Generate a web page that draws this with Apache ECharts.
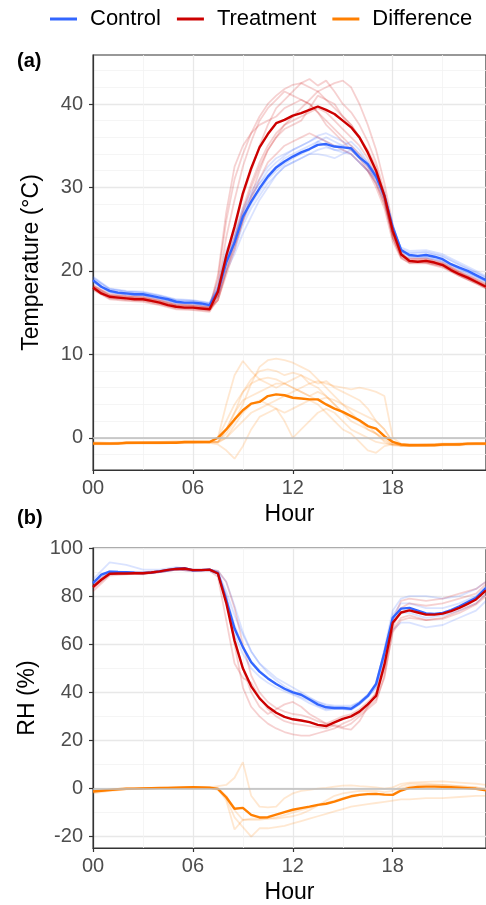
<!DOCTYPE html>
<html>
<head>
<meta charset="utf-8">
<script src="https://cdn.jsdelivr.net/npm/echarts@6/dist/echarts.min.js"></script>
<style>
  html, body { margin: 0; padding: 0; background: #fff; }
  #chart { width: 486px; height: 905px; }
</style>
</head>
<body>
<div id="chart"></div>
<script>
    // mean curves, half-hour steps
    var hours = [0, 0.5, 1, 1.5, 2, 2.5, 3, 3.5, 4, 4.5, 5, 5.5, 6, 6.5, 7, 7.5, 8, 8.5, 9, 9.5,
        10, 10.5, 11, 11.5, 12, 12.5, 13, 13.5, 14, 14.5, 15, 15.5, 16, 16.5, 17, 17.5, 18, 18.5, 19, 19.5,
        20, 20.5, 21, 21.5, 22, 22.5, 23, 23.6];
    var tempControl = [18.9, 18.1, 17.6, 17.4, 17.3, 17.2, 17.2, 17.0, 16.8, 16.6, 16.3, 16.2, 16.2, 16.1, 15.9, 17.6, 21.0, 23.4, 26.5, 28.3,
        29.9, 31.3, 32.4, 33.1, 33.7, 34.2, 34.6, 35.1, 35.2, 34.9, 34.8, 34.7, 33.6, 32.8, 31.3, 29.0, 25.2, 22.5, 21.9, 21.8,
        21.9, 21.7, 21.4, 20.8, 20.4, 20.0, 19.5, 18.9];
    var tempTreatment = [18.0, 17.3, 16.9, 16.8, 16.7, 16.6, 16.6, 16.4, 16.2, 15.9, 15.7, 15.6, 15.6, 15.5, 15.4, 17.5, 21.8, 25.3, 29.3, 32.3,
        34.8, 36.4, 37.7, 38.1, 38.6, 38.9, 39.3, 39.7, 39.3, 38.8, 38.0, 37.2, 36.0, 34.2, 32.0, 29.0, 24.8, 22.0, 21.2, 21.1,
        21.2, 21.0, 20.7, 20.1, 19.6, 19.2, 18.7, 18.1];
    var tempDiff = [-0.7, -0.7, -0.7, -0.7, -0.6, -0.6, -0.6, -0.6, -0.6, -0.6, -0.6, -0.5, -0.5, -0.5, -0.5, 0.0, 1.0, 2.2, 3.3, 4.1,
        4.3, 5.0, 5.2, 5.1, 4.8, 4.7, 4.6, 4.6, 4.0, 3.5, 3.1, 2.6, 2.1, 1.4, 1.1, 0.2, -0.5, -0.8, -0.9, -0.9,
        -0.9, -0.9, -0.8, -0.8, -0.8, -0.7, -0.7, -0.7];
    var rhControl = [85.4, 88.9, 90.2, 90.0, 89.9, 89.7, 89.6, 89.8, 90.3, 90.8, 91.4, 91.6, 90.7, 90.8, 91.0, 89.6, 78.5, 66.5, 58.8, 52.5,
        48.6, 45.8, 43.5, 41.5, 40.0, 39.0, 37.0, 35.0, 33.8, 33.5, 33.5, 33.2, 35.5, 38.5, 43.5, 56.5, 71.0, 74.8, 75.1, 74.0,
        72.8, 72.6, 73.0, 74.2, 75.8, 77.5, 79.3, 83.4];
    var rhTreatment = [83.8, 86.8, 89.3, 89.4, 89.4, 89.5, 89.5, 89.8, 90.3, 90.9, 91.3, 91.5, 90.8, 90.8, 91.0, 89.4, 77.2, 61.5, 50.0, 42.5,
        37.5, 34.0, 31.5, 29.8, 28.8, 28.3, 27.6, 26.5, 26.0, 27.5, 29.0, 30.0, 32.0, 35.0, 38.5, 51.5, 68.9, 73.2, 74.1, 73.2,
        72.3, 72.3, 72.7, 73.8, 75.1, 76.8, 78.6, 82.4];
    var rhDiff = [-1.2, -0.9, -0.6, -0.3, -0.1, 0.0, 0.1, 0.2, 0.3, 0.3, 0.4, 0.5, 0.6, 0.5, 0.4, -0.1, -3.6, -8.4, -8.0, -10.9,
        -12.0, -11.9, -10.8, -9.8, -8.8, -8.1, -7.5, -6.8, -6.3, -5.4, -4.3, -3.2, -2.6, -2.3, -2.2, -2.5, -2.6, -0.8, 0.3, 0.7,
        0.8, 0.8, 0.7, 0.6, 0.4, 0.2, -0.1, -0.7];

    // single days (faint lines)
    var hoursDay = [0, 1, 2, 3, 4, 5, 6, 7, 7.5, 8, 8.5, 9, 9.5, 10, 10.5, 11, 11.5, 12, 12.5, 13, 13.5, 14, 14.5,
        15, 15.5, 16, 16.5, 17, 17.5, 18, 18.5, 19, 20, 21, 22, 23, 23.6];
    var tempControlDays = [
        [19.3, 17.9, 17.6, 17.5, 17.1, 16.6, 16.5, 16.2, 18.0, 22.0, 24.0, 27.0, 29.0, 30.5, 32.0, 33.0, 33.8, 34.5, 35.0, 35.5, 36.2, 36.5, 36.0, 35.5, 35.0, 34.0, 33.0, 31.5, 29.0, 25.0, 22.8, 22.4, 22.5, 22.0, 21.0, 20.0, 19.4],
        [18.6, 17.4, 17.1, 17.0, 16.6, 16.1, 16.0, 15.7, 17.0, 20.5, 22.5, 25.5, 27.5, 29.0, 30.5, 31.5, 32.5, 33.0, 33.5, 34.0, 34.0, 33.8, 33.5, 34.0, 34.5, 33.5, 32.5, 31.0, 29.0, 25.5, 22.6, 21.7, 21.6, 21.1, 20.1, 19.2, 18.6],
        [19.1, 17.8, 17.5, 17.4, 17.0, 16.5, 16.4, 16.1, 18.0, 21.5, 24.0, 27.0, 29.0, 30.5, 31.5, 32.5, 33.5, 34.0, 34.5, 35.0, 35.5, 35.0, 34.5, 34.5, 34.0, 33.0, 32.0, 30.5, 28.5, 24.5, 22.3, 22.1, 22.2, 21.7, 20.7, 19.8, 19.2],
        [18.8, 17.5, 17.2, 17.1, 16.7, 16.2, 16.1, 15.8, 17.5, 21.0, 23.0, 26.0, 28.0, 29.5, 31.0, 32.0, 32.8, 33.5, 34.0, 34.5, 35.5, 36.0, 35.5, 35.0, 35.5, 34.5, 33.0, 31.5, 29.5, 25.5, 22.5, 21.8, 21.8, 21.3, 20.3, 19.4, 18.8],
        [18.7, 17.5, 17.2, 17.1, 16.7, 16.2, 16.1, 15.8, 17.0, 20.0, 22.0, 24.5, 26.5, 28.5, 30.0, 31.5, 32.5, 33.0, 33.5, 34.0, 34.5, 34.8, 34.5, 34.2, 34.0, 33.0, 32.0, 31.0, 29.0, 25.0, 22.2, 21.6, 21.6, 21.2, 20.2, 19.3, 18.7],
        [19.2, 17.8, 17.5, 17.4, 17.0, 16.5, 16.4, 16.1, 18.5, 22.5, 24.5, 27.5, 29.5, 31.0, 32.5, 33.5, 34.0, 34.5, 35.0, 35.5, 36.0, 35.5, 35.0, 35.0, 34.5, 33.5, 32.5, 31.0, 28.5, 24.5, 22.6, 22.2, 22.3, 21.8, 20.8, 19.8, 19.2]
    ];
    var tempTreatmentDays = [
        [18.3, 17.2, 17.0, 16.9, 16.5, 16.0, 15.9, 15.7, 19.0, 26.0, 31.0, 34.0, 36.5, 38.5, 40.0, 41.0, 41.8, 42.3, 42.5, 42.0, 41.5, 40.5, 39.5, 38.5, 37.5, 36.0, 34.0, 32.0, 28.5, 24.0, 21.8, 21.5, 21.4, 20.9, 19.9, 19.0, 18.4],
        [17.7, 16.6, 16.4, 16.3, 15.9, 15.4, 15.3, 15.1, 17.0, 21.5, 25.0, 29.0, 32.0, 35.0, 37.5, 39.5, 40.5, 41.5, 42.5, 43.0, 42.2, 42.8, 41.5, 40.0, 39.0, 37.5, 35.5, 33.0, 29.5, 25.0, 22.0, 21.0, 21.0, 20.5, 19.4, 18.5, 17.9],
        [18.2, 17.1, 16.9, 16.8, 16.4, 15.9, 15.8, 15.6, 16.5, 20.0, 23.0, 26.0, 28.5, 31.0, 33.0, 34.0, 35.0, 35.5, 36.0, 36.5, 36.0, 35.5, 35.0, 34.5, 34.0, 33.0, 32.0, 30.5, 28.0, 24.5, 21.9, 21.4, 21.5, 21.0, 19.9, 19.0, 18.4],
        [17.8, 16.7, 16.5, 16.4, 16.0, 15.5, 15.4, 15.2, 16.5, 20.0, 23.5, 27.0, 30.0, 32.5, 34.5, 36.0, 37.5, 38.5, 39.5, 40.5, 41.5, 42.0, 42.5, 42.8, 42.0, 40.0, 37.5, 34.5, 30.5, 25.5, 22.3, 21.2, 21.0, 20.6, 19.5, 18.6, 18.0],
        [18.1, 17.0, 16.8, 16.7, 16.3, 15.8, 15.7, 15.5, 18.0, 24.0, 28.5, 32.5, 35.5, 38.0, 39.5, 40.5, 41.5, 41.0, 40.5, 40.0, 39.0, 38.0, 37.0, 36.0, 35.0, 34.0, 32.5, 30.5, 28.0, 24.0, 21.6, 20.9, 20.9, 20.4, 19.4, 18.5, 17.9],
        [17.9, 16.8, 16.6, 16.5, 16.1, 15.6, 15.5, 15.3, 17.0, 21.0, 24.0, 27.5, 30.5, 33.0, 35.0, 36.5, 37.5, 38.0, 38.5, 39.0, 39.5, 39.0, 38.0, 37.0, 36.0, 35.0, 33.5, 31.5, 28.5, 24.0, 21.7, 21.3, 21.3, 20.8, 19.7, 18.8, 18.2],
        [18.0, 16.9, 16.7, 16.6, 16.2, 15.7, 15.6, 15.4, 16.5, 19.5, 22.5, 26.0, 29.0, 32.0, 34.5, 36.0, 37.0, 37.5, 38.0, 39.5, 41.0, 40.5, 40.0, 38.5, 37.5, 36.0, 34.5, 32.5, 29.0, 24.5, 22.0, 21.1, 21.1, 20.7, 19.6, 18.7, 18.1],
        [18.2, 17.1, 16.9, 16.8, 16.4, 15.9, 15.8, 15.6, 19.5, 27.0, 32.5, 35.0, 36.5, 37.5, 38.0, 38.5, 39.5, 40.0, 40.5, 40.0, 39.0, 37.5, 36.5, 35.5, 34.5, 33.5, 32.0, 30.0, 27.5, 23.5, 21.5, 21.0, 21.2, 20.8, 19.8, 18.8, 18.2]
    ];
    var tempDiffDays = [
        [-0.6, -0.7, -0.6, -0.6, -0.6, -0.5, -0.5, -0.5, 0.0, 4.0, 7.5, 9.2, 8.0, 7.0, 6.5, 6.0, 6.5, 7.0, 7.5, 6.5, 6.0, 5.0, 4.0, 3.0, 2.0, 1.5, 1.0, 0.5, 0.0, -0.8, -0.9, -0.9, -0.8, -0.8, -0.7, -0.7, -0.7],
        [-0.8, -0.8, -0.7, -0.7, -0.7, -0.6, -0.6, -0.6, -0.5, 1.0, 3.0, 5.5, 7.0, 8.0, 8.2, 8.0, 7.5, 7.8, 7.5, 7.0, 6.5, 6.8, 6.0, 5.5, 5.0, 4.5, 3.5, 2.0, 1.0, -0.5, -1.0, -1.0, -1.0, -0.9, -0.9, -0.8, -0.8],
        [-0.5, -0.6, -0.5, -0.5, -0.5, -0.4, -0.4, -0.4, -0.5, 0.5, 2.0, 4.0, 6.5, 8.5, 9.3, 9.5, 9.3, 9.0, 8.5, 8.0, 7.0, 6.0, 5.0, 4.0, 3.0, 2.0, 1.5, 0.5, -0.3, -0.8, -0.8, -0.8, -0.8, -0.7, -0.7, -0.6, -0.6],
        [-0.7, -0.7, -0.6, -0.6, -0.6, -0.6, -0.5, -0.6, -0.8, -1.5, -2.5, -1.0, 1.0, 2.5, 3.0, 3.5, 2.0, 0.0, 1.0, 2.0, 3.0, 3.5, 3.0, 2.0, 1.0, 0.5, 0.0, -0.5, -0.7, -0.8, -0.9, -0.9, -0.9, -0.8, -0.8, -0.7, -0.7],
        [-0.6, -0.6, -0.6, -0.5, -0.5, -0.5, -0.5, -0.5, -0.5, 0.0, 1.0, 2.0, 3.0, 3.5, 4.0, 4.5, 5.0, 5.5, 6.0, 6.5, 6.8, 6.5, 6.2, 6.0, 5.8, 6.0, 5.8, 5.5, 5.0, 0.0, -0.7, -0.8, -0.8, -0.8, -0.7, -0.7, -0.7],
        [-0.7, -0.7, -0.7, -0.6, -0.6, -0.6, -0.6, -0.5, 0.0, 2.0, 4.0, 5.5, 6.5, 7.0, 7.2, 7.0, 6.5, 6.0, 5.5, 5.0, 5.5, 5.0, 4.0, 3.0, 2.5, 2.0, 1.0, 0.5, -0.5, -0.9, -1.0, -1.0, -0.9, -0.9, -0.8, -0.8, -0.8],
        [-0.6, -0.6, -0.6, -0.6, -0.5, -0.5, -0.5, -0.5, -0.6, 0.0, 1.5, 3.0, 4.0, 4.5, 4.0, 3.5, 3.0, 3.5, 4.0, 4.5, 4.0, 3.0, 2.0, 1.0, 0.5, -0.5, -1.5, -1.8, -1.0, -0.8, -0.8, -0.8, -0.8, -0.7, -0.7, -0.6, -0.6],
        [-0.7, -0.7, -0.6, -0.6, -0.6, -0.6, -0.6, -0.5, -0.5, 1.0, 3.0, 4.5, 5.0, 5.5, 6.0, 6.5, 6.5, 6.0, 5.5, 5.0, 4.5, 4.8, 4.5, 4.0, 3.5, 3.0, 2.5, 2.0, 1.0, -0.5, -0.9, -0.9, -0.9, -0.8, -0.8, -0.7, -0.7]
    ];
    var rhControlDays = [
        [87.0, 94.0, 93.0, 91.0, 91.0, 92.0, 91.0, 91.0, 90.0, 82.0, 72.0, 64.0, 57.0, 52.0, 49.0, 46.0, 44.0, 42.0, 40.0, 38.0, 36.0, 35.0, 34.5, 34.5, 34.5, 36.0, 39.0, 43.0, 58.0, 74.0, 79.0, 80.0, 80.0, 79.0, 80.0, 83.0, 86.0],
        [84.0, 89.0, 89.5, 89.5, 90.0, 91.0, 90.5, 90.5, 89.0, 80.0, 68.0, 59.0, 53.0, 49.0, 46.0, 43.5, 41.5, 39.5, 38.0, 36.5, 34.5, 33.0, 33.0, 33.0, 33.0, 35.0, 38.0, 42.0, 55.0, 66.0, 69.0, 69.0, 67.0, 68.0, 71.0, 74.0, 78.0],
        [86.0, 90.5, 90.0, 89.5, 90.5, 91.5, 91.0, 91.0, 90.5, 86.0, 76.0, 65.0, 57.0, 52.0, 48.0, 45.0, 42.5, 40.5, 39.0, 37.5, 36.0, 34.5, 34.0, 34.0, 34.0, 36.0, 39.0, 44.0, 57.0, 72.0, 77.0, 77.0, 75.0, 75.0, 77.0, 80.0, 84.0],
        [85.0, 90.0, 90.0, 89.5, 90.0, 91.0, 90.5, 91.0, 89.5, 77.0, 64.0, 56.0, 50.0, 46.5, 44.0, 42.0, 40.5, 39.0, 37.5, 35.5, 34.0, 32.5, 33.0, 33.0, 32.5, 35.0, 38.0, 42.0, 55.0, 70.0, 73.0, 73.0, 71.0, 72.0, 74.0, 77.0, 81.0]
    ];
    var rhTreatmentDays = [
        [82.0, 88.5, 89.0, 89.5, 90.0, 91.0, 90.5, 90.5, 88.0, 70.0, 52.0, 46.0, 44.0, 38.0, 33.0, 30.0, 28.0, 27.0, 26.5, 26.0, 25.5, 25.0, 26.5, 25.5, 27.0, 30.0, 33.0, 36.0, 47.0, 65.0, 70.0, 71.0, 70.0, 71.0, 74.0, 77.0, 81.0],
        [84.0, 89.5, 89.5, 89.0, 90.0, 91.0, 91.0, 91.0, 90.0, 80.0, 60.0, 42.0, 34.0, 30.0, 27.0, 25.0, 23.5, 22.5, 22.0, 22.0, 23.0, 24.0, 25.0, 27.0, 28.5, 31.0, 34.0, 37.0, 46.0, 66.0, 71.0, 72.0, 70.0, 70.5, 73.0, 76.5, 80.0],
        [85.0, 90.0, 90.0, 90.0, 90.5, 91.5, 91.0, 91.0, 90.5, 86.0, 75.0, 60.0, 47.0, 40.0, 36.0, 33.5, 32.0, 31.0, 30.5, 29.5, 28.0, 27.0, 28.5, 30.0, 31.0, 33.0, 36.0, 39.5, 49.0, 67.0, 75.0, 77.0, 76.0, 77.0, 79.0, 81.0, 85.0],
        [83.0, 89.0, 89.5, 89.5, 90.0, 91.0, 90.5, 91.0, 89.5, 78.0, 62.0, 50.0, 40.0, 34.0, 31.0, 33.0, 35.0, 36.0, 34.0, 31.0, 29.0, 27.0, 26.0, 25.0, 24.5, 28.0, 34.0, 40.0, 52.0, 70.0, 78.0, 79.0, 78.0, 79.0, 81.0, 83.0, 86.0]
    ];
    var rhDiffDays = [
        [-1.5, -0.5, 0.0, 0.2, 0.3, 0.5, 0.6, 0.5, 1.0, 1.5, 4.5, 11.0, -3.0, -7.5, -7.8, -7.5, -4.0, -2.0, -1.0, -0.5, 0.0, 0.3, 0.8, 1.2, 1.3, 1.0, 0.8, 0.5, 0.0, 0.5, 2.0, 2.5, 2.8, 3.0, 2.5, 2.0, 1.5],
        [-1.0, -0.5, 0.0, 0.2, 0.3, 0.4, 0.5, 0.4, 0.0, -5.0, -17.0, -13.0, -12.5, -12.5, -12.5, -12.5, -12.0, -11.5, -10.5, -9.0, -7.0, -5.0, -3.0, -2.0, -1.5, -1.0, -1.0, -1.0, -1.5, -1.0, 1.0, 2.0, 2.0, 1.5, 1.0, 0.5, 0.0],
        [-2.0, -1.0, -0.3, 0.0, 0.2, 0.3, 0.5, 0.3, -0.5, -4.0, -12.0, -16.0, -20.0, -16.5, -16.5, -16.0, -15.5, -14.5, -13.5, -12.5, -11.5, -10.5, -9.5, -8.5, -7.5, -7.0, -6.5, -6.0, -5.5, -5.0, -4.5, -4.5, -4.0, -4.0, -3.5, -3.0, -3.0],
        [-1.2, -0.6, -0.2, 0.1, 0.3, 0.5, 0.6, 0.5, 0.2, -3.0, -9.0, -13.0, -13.0, -13.0, -12.5, -12.0, -11.0, -10.0, -9.0, -8.0, -7.0, -6.0, -5.0, -4.0, -3.0, -2.5, -2.0, -2.0, -2.5, -2.5, 0.0, 1.0, 1.5, 1.5, 1.0, 0.5, -0.5]
    ];
    var hourTicks = [0, 6, 12, 18];
    var tempTicks = [0, 10, 20, 30, 40];
    var rhTicks = [-20, 0, 20, 40, 60, 80, 100];

    var BLUE = '#3366ff', RED = '#cc0000', ORANGE = '#ff7f00';
    var FONT = 'Liberation Sans, Arial, sans-serif';

    var dom = document.getElementById('chart');
    var myChart = echarts.init(dom, null, {renderer: 'canvas'});

    function pairs(xs, ys) {
        return xs.map(function (x, i) { return [x, ys[i]]; });
    }

    function faint(list, color, gi) {
        return list.map(function (ys) {
            return {
                type: 'line', name: 'day', xAxisIndex: gi, yAxisIndex: gi,
                data: pairs(hoursDay, ys), symbol: 'none', silent: true, z: 2,
                lineStyle: {color: color, width: 1.8, opacity: 0.18}
            };
        });
    }

    function mean(name, ys, color, gi) {
        return {
            type: 'line', name: name, xAxisIndex: gi, yAxisIndex: gi,
            data: pairs(hours, ys), symbol: 'none', silent: true, z: 3,
            itemStyle: {color: color},
            lineStyle: {color: color, width: 2.4}
        };
    }

    function zeroLine(gi) {
        return {
            type: 'line', name: 'zero', xAxisIndex: gi, yAxisIndex: gi, data: [], z: 1, silent: true,
            markLine: {
                silent: true, symbol: 'none', label: {show: false},
                lineStyle: {color: '#bebebe', width: 1.5, type: 'solid'},
                data: [{yAxis: 0}]
            }
        };
    }

    function xAxis(gi) {
        return {
            type: 'value', gridIndex: gi, min: 0, max: 23.6, interval: 6,
            name: 'Hour', nameLocation: 'middle', nameGap: 33,
            nameTextStyle: {fontSize: 23, color: '#000', fontFamily: FONT},
            axisLine: {show: true, onZero: false, lineStyle: {color: '#333', width: 1.2}},
            axisTick: {show: true, length: 4, customValues: hourTicks, lineStyle: {color: '#333', width: 1.2}},
            axisLabel: {
                customValues: hourTicks, fontSize: 20, color: '#4d4d4d', fontFamily: FONT, margin: 8,
                formatter: function (v) { return (v < 10 ? '0' : '') + v; }
            },
            splitLine: {show: true, lineStyle: {color: '#e8e8e8', width: 1.3}},
            minorTick: {show: false, splitNumber: 2},
            minorSplitLine: {show: true, lineStyle: {color: '#f2f2f2', width: 0.8}}
        };
    }

    function yAxis(gi, min, max, split, ticks, minorN, name) {
        return {
            type: 'value', gridIndex: gi, min: min, max: max, splitNumber: split,
            name: name, nameLocation: 'middle', nameRotate: 90, nameGap: 50,
            nameTextStyle: {fontSize: 23, color: '#000', fontFamily: FONT},
            axisLine: {show: true, onZero: false, lineStyle: {color: '#333', width: 1.2}},
            axisTick: {show: true, length: 4, customValues: ticks, lineStyle: {color: '#333', width: 1.2}},
            axisLabel: {customValues: ticks, fontSize: 20, color: '#4d4d4d', fontFamily: FONT, margin: 10},
            splitLine: {show: true, lineStyle: {color: '#e8e8e8', width: 1.3}},
            minorTick: {show: false, splitNumber: minorN},
            minorSplitLine: {show: true, lineStyle: {color: '#f2f2f2', width: 0.8}}
        };
    }

    var series = [zeroLine(0), zeroLine(1)]
        .concat(faint(tempControlDays, BLUE, 0))
        .concat(faint(tempTreatmentDays, RED, 0))
        .concat(faint(tempDiffDays, ORANGE, 0))
        .concat(faint(rhControlDays, BLUE, 1))
        .concat(faint(rhTreatmentDays, RED, 1))
        .concat(faint(rhDiffDays, ORANGE, 1))
        .concat([
            mean('Control', tempControl, BLUE, 0),
            mean('Treatment', tempTreatment, RED, 0),
            mean('Difference', tempDiff, ORANGE, 0),
            mean('Control', rhControl, BLUE, 1),
            mean('Treatment', rhTreatment, RED, 1),
            mean('Difference', rhDiff, ORANGE, 1)
        ]);

    var option = {
        animation: false,
        backgroundColor: '#fff',
        textStyle: {fontFamily: FONT},
        legend: {
            data: ['Control', 'Treatment', 'Difference'],
            icon: 'rect', left: 45, top: 3, itemWidth: 27, itemHeight: 3, itemGap: 16,
            textStyle: {fontSize: 22, color: '#000', fontFamily: FONT, padding: [0, 0, 0, 8]}
        },
        graphic: [
            {type: 'text', left: 17, top: 51, style: {text: '(a)', font: 'bold 20px ' + FONT, fill: '#000'}},
            {type: 'text', left: 17, top: 508, style: {text: '(b)', font: 'bold 20px ' + FONT, fill: '#000'}}
        ],
        grid: [
            {left: 93, right: -1, top: 55, height: 415, show: true, borderColor: '#333', borderWidth: 1.2},
            {left: 93, right: -1, top: 548, height: 301, show: true, borderColor: '#333', borderWidth: 1.2}
        ],
        xAxis: [xAxis(0), xAxis(1)],
        yAxis: [
            yAxis(0, -3.86, 45.87, 5, tempTicks, 5, 'Temperature (°C)'),
            yAxis(1, -24.7, 100, 6, rhTicks, 2, 'RH (%)')
        ],
        series: series
    };
    myChart.setOption(option, true);
</script>
</body>
</html>
